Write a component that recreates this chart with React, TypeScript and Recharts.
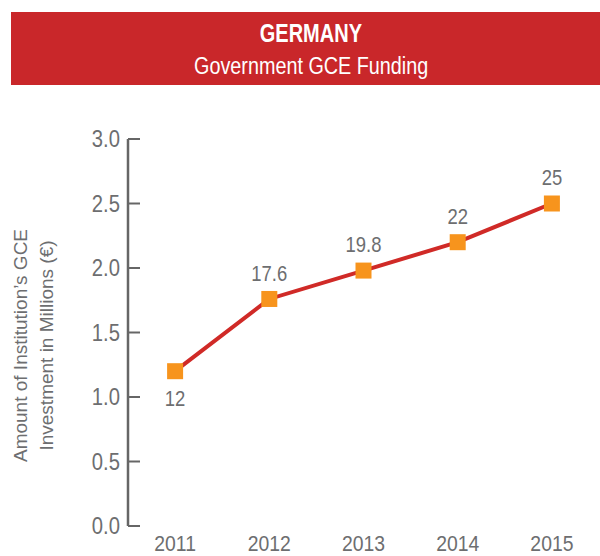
import { LineChart, Line, XAxis, YAxis, LabelList } from "recharts";

const years = [2011, 2012, 2013, 2014, 2015];
const funding = [1.2, 1.76, 1.98, 2.2, 2.5];
const pointLabels = ["12", "17.6", "19.8", "22", "25"];
const yTicks = [0, 0.5, 1, 1.5, 2, 2.5, 3];
const yearBounds = [2011.5, 2012.5, 2013.5, 2014.5, 2015.5];

const FONT = '"Liberation Sans", Arial, sans-serif';
const GREY = "#6d6e70";
const AXIS = "#666666";

const data = years.map((y, i) => ({ year: y, funding: funding[i], label: pointLabels[i] }));

function SquareDot(props: any) {
  const { cx, cy, index } = props;
  return <rect key={index} x={cx - 8} y={cy - 8} width={16} height={16} fill="#f7941d" />;
}

// narrow text: the reference uses a condensed face, squeeze Liberation Sans horizontally
function NarrowTick(props: any) {
  const { x, y, payload, textAnchor, fmt, dy, size } = props;
  return (
    <text
      transform={`translate(${x},${y}) scale(0.88,1)`}
      textAnchor={textAnchor}
      dy={dy}
      fontFamily={FONT}
      fontSize={size}
      fill={GREY}
    >
      {fmt ? fmt(payload.value) : payload.value}
    </text>
  );
}

function PointLabel(props: any) {
  const { x, y, index, value } = props;
  const ty = index === 0 ? y + 27 : y - 26;
  return (
    <text
      transform={`translate(${x},${ty}) scale(0.84,1)`}
      textAnchor="middle"
      dominantBaseline="central"
      fontFamily={FONT}
      fontSize={22}
      fill={GREY}
    >
      {value}
    </text>
  );
}

function YTitle(props: any) {
  const { viewBox } = props;
  const cy = viewBox.y + viewBox.height / 2 + 13;
  return (
    <g fontFamily={FONT} fontSize={19} fill={GREY}>
      <text x={20} y={cy} transform={`rotate(-90, 20, ${cy})`} textAnchor="middle" dominantBaseline="central">
        Amount of Institution’s GCE
      </text>
      <text x={46} y={cy} transform={`rotate(-90, 46, ${cy})`} textAnchor="middle" dominantBaseline="central">
        Investment in Millions (€)
      </text>
    </g>
  );
}

export default function App() {
  return (
    <div
      style={{
        position: "absolute",
        left: 0,
        top: 0,
        width: 600,
        height: 556,
        overflow: "hidden",
        background: "#fff",
        fontFamily: FONT,
      }}
    >
      <div
        style={{
          position: "absolute",
          left: 11,
          top: 12,
          width: 600,
          height: 73,
          background: "#c9272a",
          color: "#fff",
          textAlign: "center",
        }}
      >
        <div style={{ fontWeight: 700, fontSize: 25, lineHeight: "25px", marginTop: 9 }}>
          <span style={{ display: "inline-block", transform: "scaleX(0.8)" }}>GERMANY</span>
        </div>
        <div style={{ fontSize: 23, lineHeight: "23px", marginTop: 9 }}>
          <span style={{ display: "inline-block", transform: "scaleX(0.86)" }}>Government GCE Funding</span>
        </div>
      </div>
      <div style={{ position: "absolute", left: 0, top: 0 }}>
        <LineChart width={600} height={556} data={data} margin={{ top: 139, right: 1, bottom: 0, left: 0 }}>
          <XAxis
            xAxisId="bounds"
            dataKey="year"
            type="number"
            domain={[2010.5, 2015.5]}
            ticks={yearBounds}
            interval={0}
            height={0}
            tickSize={-9}
            tickFormatter={() => ""}
            axisLine={{ stroke: AXIS, strokeWidth: 2.5 }}
            tickLine={{ stroke: AXIS, strokeWidth: 2 }}
          />
          <XAxis
            xAxisId="years"
            dataKey="year"
            type="number"
            domain={[2010.5, 2015.5]}
            ticks={years}
            interval={0}
            height={30}
            tickSize={0}
            tickMargin={9}
            axisLine={false}
            tickLine={false}
            tick={<NarrowTick dy="0.71em" size={22} />}
          />
          <YAxis
            domain={[0, 3]}
            ticks={yTicks}
            interval={0}
            width={128}
            tickSize={-12}
            tickMargin={20}
            axisLine={{ stroke: AXIS, strokeWidth: 2.5 }}
            tickLine={{ stroke: AXIS, strokeWidth: 2 }}
            tick={<NarrowTick dy="0.355em" size={23} fmt={(v: number) => v.toFixed(1)} />}
            label={<YTitle />}
          />
          <Line
            xAxisId="years"
            dataKey="funding"
            stroke="#d02a27"
            strokeWidth={4}
            dot={SquareDot}
            activeDot={false}
            isAnimationActive={false}
          >
            <LabelList dataKey="label" content={PointLabel} />
          </Line>
        </LineChart>
      </div>
    </div>
  );
}
